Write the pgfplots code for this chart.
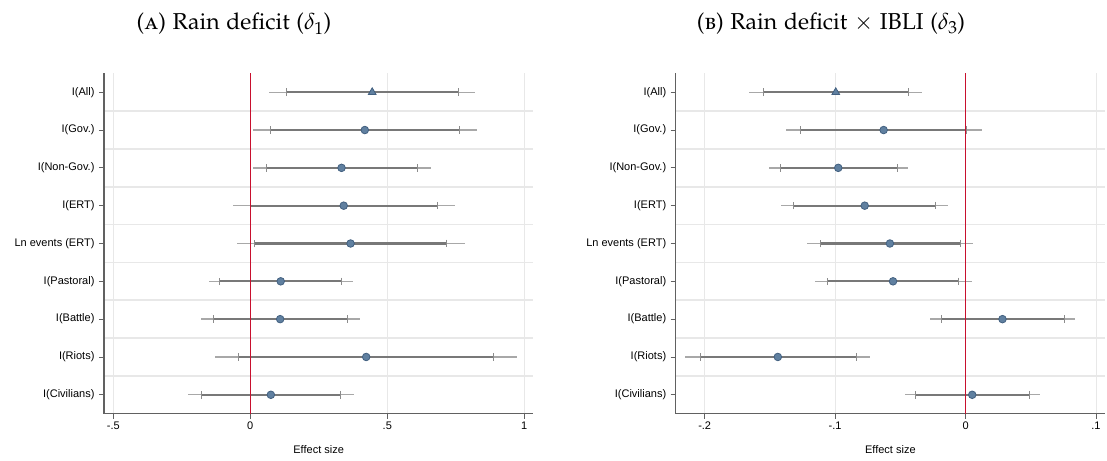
\documentclass[border=0pt]{standalone}
\usepackage[T1,TU]{fontenc}
\usepackage{mathpazo}
\usepackage[no-math]{fontspec}
\setmainfont{Liberation Sans}
\usepackage{pgfplots}
\usepackage{pgfplotstable}
\pgfplotsset{compat=1.18}
\newcommand\pal{\fontencoding{T1}\fontfamily{pplx}\selectfont}
\definecolor{axisgray}{gray}{0.38}
\definecolor{innergray}{gray}{0.47}
\definecolor{outergray}{gray}{0.66}
\definecolor{capgray}{gray}{0.55}
\definecolor{gridgray}{gray}{0.91}
\definecolor{zerored}{RGB}{200,16,46}
\definecolor{mfill}{RGB}{96,128,160}
\definecolor{mdraw}{RGB}{66,96,128}

% y pt ilo ihi olo ohi
\pgfplotstableread{
y pt ilo ihi olo ohi
9 0.445 0.131 0.760 0.070 0.820
8 0.418 0.074 0.762 0.009 0.828
7 0.333 0.059 0.609 0.009 0.659
6 0.341 0.000 0.684 -0.063 0.747
5 0.366 0.015 0.717 -0.050 0.784
4 0.111 -0.112 0.332 -0.152 0.374
3 0.109 -0.133 0.354 -0.181 0.399
2 0.423 -0.0415 0.887 -0.128 0.974
1 0.075 -0.180 0.328 -0.226 0.377
}\leftdata
\pgfplotstableread{
y pt ilo ihi olo ohi
9 -0.0995 -0.1553 -0.0439 -0.1658 -0.0332
8 -0.0628 -0.1262 0.0003 -0.1377 0.0126
7 -0.0976 -0.1422 -0.0524 -0.1508 -0.0439
6 -0.0773 -0.1316 -0.0230 -0.1414 -0.0131
5 -0.0580 -0.1115 -0.0043 -0.1214 0.0059
4 -0.0556 -0.1061 -0.0051 -0.1158 0.0048
3 0.0283 -0.0184 0.0757 -0.0270 0.0842
2 -0.1439 -0.2035 -0.0840 -0.2150 -0.0730
1 0.0051 -0.0385 0.0489 -0.0465 0.0570
}\rightdata

\pgfplotsset{
  coefax/.style={
    scale only axis, anchor=south west,
    width=429.3pt, height=340.4pt,
    ymin=0.5, ymax=9.5,
    axis x line*=bottom, axis y line*=left,
    axis line style={-, draw=axisgray, line width=1.2pt},
    tick align=outside, major tick length=5pt,
    tick style={draw=axisgray, line width=0.9pt},
    ytick={1,...,9},
    yticklabels={I(Civilians),I(Riots),I(Battle),I(Pastoral),Ln events (ERT),I(ERT),I(Non-Gov.),I(Gov.),I(All)},
    minor ytick={1.5,2.5,...,8.5},
    minor tick length=0pt,
    yminorgrids=true, ymajorgrids=false, xmajorgrids=true,
    minor grid style={draw=gridgray, line width=1.5pt},
    major grid style={draw=gridgray, line width=0.9pt},
    tick label style={font=\fontsize{11}{13}\selectfont},
    label style={font=\fontsize{11}{13}\selectfont},
    yticklabel style={xshift=-1pt},
    xlabel={Effect size},
    xlabel style={at={(axis description cs:0.5,0)}, anchor=center, yshift=-36pt},
  },
  ciouter/.style={only marks, mark=none, forget plot,
    error bars/.cd, x dir=both, x explicit, error mark=none,
    error bar style={line width=1.3pt, draw=outergray}},
  ciinner/.style={only marks, mark=none, forget plot,
    error bars/.cd, x dir=both, x explicit, error mark=|,
    error bar style={line width=2.2pt, draw=innergray},
    error mark options={line width=0.9pt, draw=capgray, mark size=3.8pt}},
  ptmark/.style={only marks, mark options={fill=mfill, draw=mdraw, line width=0.8pt}},
}

\begin{document}
\begin{tikzpicture}
\path[use as bounding box] (0,0) rectangle (1107pt,460pt);

\node at (234pt,436pt) {\pal\fontsize{23}{27}\selectfont (\textsc{a}) Rain deficit ($\delta_1$)};
\node at (831pt,436pt) {\pal\fontsize{23}{27}\selectfont (\textsc{b}) Rain deficit $\times$ IBLI ($\delta_3$)};

\begin{axis}[coefax, at={(104pt,46.3pt)},
  xmin=-0.534, xmax=1.033,
  xtick={-0.5,0,0.5,1}, xticklabels={-.5,0,.5,1}]
  \addplot[ciouter] table[x=pt, y=y, x error minus expr=\thisrow{pt}-\thisrow{olo}, x error plus expr=\thisrow{ohi}-\thisrow{pt}] {\leftdata};
  \addplot[ciinner] table[x=pt, y=y, x error minus expr=\thisrow{pt}-\thisrow{ilo}, x error plus expr=\thisrow{ihi}-\thisrow{pt}] {\leftdata};
  \addplot[zerored, line width=1.1pt, forget plot] coordinates {(0,0.5) (0,9.5)};
  \addplot[ptmark, mark=triangle*, mark size=4.4pt, skip coords between index={1}{9}] table[x=pt, y=y] {\leftdata};
  \addplot[ptmark, mark=*, mark size=3.8pt, skip coords between index={0}{1}] table[x=pt, y=y] {\leftdata};
\end{axis}

\begin{axis}[coefax, at={(675.7pt,46.3pt)},
  xmin=-0.2222, xmax=0.1069,
  xtick={-0.2,-0.1,0,0.1}, xticklabels={-.2,-.1,0,.1}]
  \addplot[ciouter] table[x=pt, y=y, x error minus expr=\thisrow{pt}-\thisrow{olo}, x error plus expr=\thisrow{ohi}-\thisrow{pt}] {\rightdata};
  \addplot[ciinner] table[x=pt, y=y, x error minus expr=\thisrow{pt}-\thisrow{ilo}, x error plus expr=\thisrow{ihi}-\thisrow{pt}] {\rightdata};
  \addplot[zerored, line width=1.1pt, forget plot] coordinates {(0,0.5) (0,9.5)};
  \addplot[ptmark, mark=triangle*, mark size=4.4pt, skip coords between index={1}{9}] table[x=pt, y=y] {\rightdata};
  \addplot[ptmark, mark=*, mark size=3.8pt, skip coords between index={0}{1}] table[x=pt, y=y] {\rightdata};
\end{axis}
\end{tikzpicture}
\end{document}
